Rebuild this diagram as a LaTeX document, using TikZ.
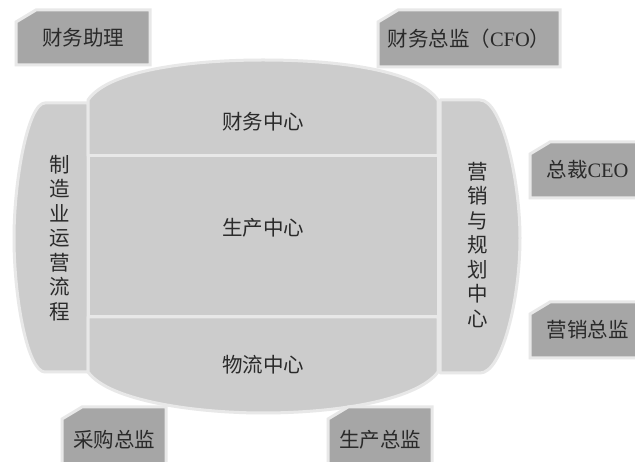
\documentclass[tikz,border=0pt]{standalone}
\usepackage{fontspec}
\setmainfont{Liberation Serif}
\newfontfamily\cjk{Noto Sans CJK SC}
\definecolor{shapefill}{HTML}{CCCCCC}
\definecolor{boxfill}{HTML}{A6A6A6}
\definecolor{rim}{HTML}{E8E8E8}
\definecolor{ink}{HTML}{2A2A2A}
\tikzset{
  part/.style={fill=shapefill, draw=rim, line width=3pt, line join=round},
  tag/.style={fill=boxfill, draw=rim, line width=3pt, line join=miter},
  lbl/.style={text=ink, font=\cjk\fontsize{20.5}{24.5}\selectfont, inner sep=0pt},
  vlbl/.style={lbl, align=center},
}
\newcommand\tagbox[6]{%
  \draw[tag] (#2,#3+12) -- (#2+20,#3) -- (#4,#3) -- (#4,#5) -- (#2,#5) -- cycle;
  \node[lbl] (#1) at ({(#2+#4)/2},{(#3+#5)/2}) {#6};
}
\begin{document}
\begin{tikzpicture}[x=1pt,y=-1pt]
\useasboundingbox (0,0) rectangle (635,462);
\fill[white] (0,0) rectangle (635,462);
\clip (0,0) rectangle (635,462);
% left column
\draw[part] (88,103) -- (45,103) .. controls (28,103) and (14,180) .. (14,238)
  .. controls (14,300) and (28,372) .. (45,372) -- (88,372) -- cycle;
% right column
\draw[part] (440,100) -- (480,100) .. controls (502,100) and (520,180) .. (520,238)
  .. controls (520,300) and (502,373) .. (480,373) -- (440,373) -- cycle;
% top
\draw[part] (88,156) -- (88,100) .. controls (110,68) and (200,60) .. (263,60)
  .. controls (330,60) and (415,68) .. (438,100) -- (438,156) -- cycle;
% middle
\draw[part] (88,156) rectangle (438,317);
% bottom
\draw[part] (88,317) -- (88,372) .. controls (110,402) and (200,413) .. (263,413)
  .. controls (330,413) and (415,402) .. (438,372) -- (438,317) -- cycle;
% labels
\node[lbl] (fin) at (263,122) {财务中心};
\node[lbl] (prod) at (263,228) {生产中心};
\node[lbl] (log) at (263,365) {物流中心};
\node[vlbl] (mfg) at (60,238) {制\\造\\业\\运\\营\\流\\程};
\node[vlbl] (mkt) at (478,245) {营\\销\\与\\规\\划\\中\\心};
% tags
\tagbox{fa}{16}{10}{150}{65}{财务助理}
\tagbox{cfo}{378}{10}{560}{67}{财务总监（\rmfamily CFO\cjk ）}
\tagbox{ceo}{530}{142}{645}{198}{总裁\rmfamily CEO}
\tagbox{md}{530}{302}{645}{358}{营销总监}
\tagbox{pd}{62}{407}{166}{472}{采购总监}
\tagbox{sd}{328}{407}{432}{472}{生产总监}
\end{tikzpicture}
\end{document}
